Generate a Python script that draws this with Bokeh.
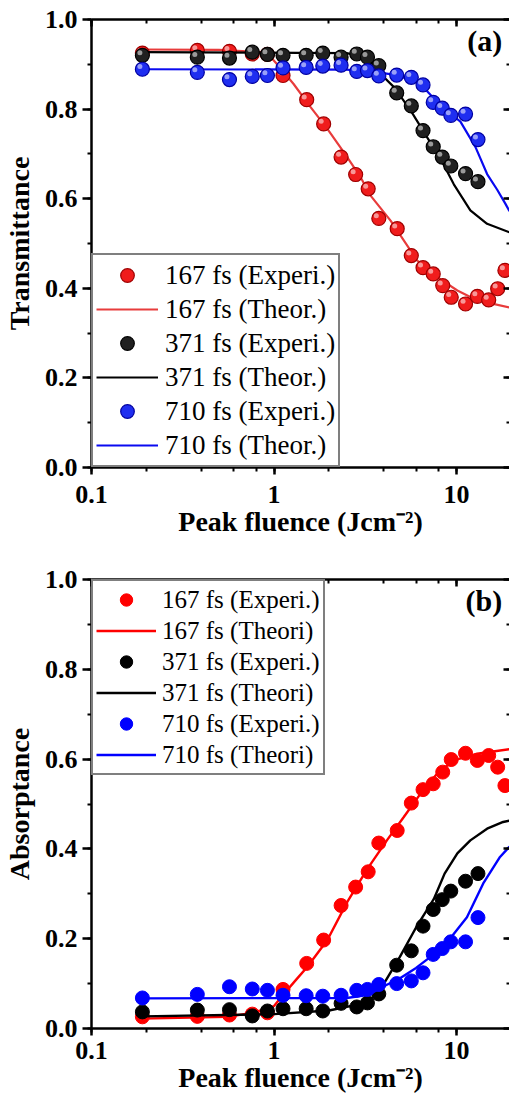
from bokeh.plotting import figure
from bokeh.models import (LogAxis, LinearAxis, Legend, LegendItem, Label,
                          CustomJSTickFormatter, Range1d, SingleIntervalTicker, LogTicker)
from bokeh.layouts import column
from bokeh.embed import file_html
from bokeh.resources import INLINE

# ---------------- data: panel (a) transmittance ----------------
a_red_x = [0.19, 0.38, 0.57, 0.76, 0.92, 1.12, 1.51, 1.87, 2.33, 2.8, 3.28, 3.75,
           4.73, 5.65, 6.55, 7.45, 8.4, 9.35, 11.2, 13.0, 15.0, 16.8, 18.4]
a_red_y = [0.925, 0.931, 0.929, 0.923, 0.922, 0.875, 0.821, 0.767, 0.693, 0.654, 0.622, 0.556,
           0.533, 0.473, 0.446, 0.432, 0.406, 0.380, 0.365, 0.382, 0.374, 0.399, 0.440]
a_blk_x = [0.19, 0.38, 0.57, 0.76, 0.92, 1.12, 1.5, 1.85, 2.33, 2.84, 3.25, 3.75,
           4.7, 5.65, 6.55, 7.45, 8.35, 9.3, 11.2, 13.1]
a_blk_y = [0.920, 0.916, 0.914, 0.927, 0.922, 0.920, 0.920, 0.925, 0.916, 0.923, 0.916, 0.897,
           0.836, 0.807, 0.752, 0.716, 0.693, 0.673, 0.656, 0.638]
a_blu_x = [0.19, 0.38, 0.57, 0.76, 0.92, 1.12, 1.5, 1.85, 2.33, 2.84, 3.25, 3.75,
           4.7, 5.65, 6.55, 7.45, 8.35, 9.3, 11.2, 13.1]
a_blu_y = [0.889, 0.882, 0.866, 0.873, 0.875, 0.892, 0.893, 0.896, 0.898, 0.884, 0.886, 0.874,
           0.876, 0.871, 0.854, 0.815, 0.802, 0.786, 0.789, 0.732]

a_red_th_x = [0.19, 0.5, 0.87, 0.95, 1.04, 1.28, 1.59, 1.96, 2.41, 2.98, 3.38, 4.35, 6.09, 7.83, 10.1, 13.0, 19.5]
a_red_th_y = [0.933, 0.932, 0.927, 0.918, 0.900, 0.856, 0.804, 0.756, 0.704, 0.648, 0.607, 0.551, 0.462, 0.425, 0.395, 0.373, 0.357]
a_blk_th_x = [0.19, 2.5, 3.0, 3.4, 3.83, 4.54, 5.6, 6.9, 8.17, 9.66, 11.9, 14.7, 19.5]
a_blk_th_y = [0.927, 0.925, 0.918, 0.905, 0.879, 0.849, 0.797, 0.737, 0.689, 0.632, 0.574, 0.544, 0.525]
a_blu_th_x = [0.19, 2.5, 3.67, 4.54, 5.8, 6.9, 8.17, 10.5, 12.7, 14.7, 16.7, 18.5, 19.5]
a_blu_th_y = [0.889, 0.888, 0.882, 0.877, 0.864, 0.840, 0.808, 0.772, 0.715, 0.655, 0.620, 0.589, 0.572]

# ---------------- data: panel (b) absorptance ----------------
b_red_x = a_red_x
b_red_y = [0.026, 0.027, 0.030, 0.032, 0.035, 0.087, 0.145, 0.197, 0.274, 0.315, 0.349, 0.413,
           0.441, 0.502, 0.532, 0.545, 0.571, 0.599, 0.613, 0.597, 0.608, 0.582, 0.541]
b_blk_x = a_blk_x
b_blk_y = [0.037, 0.041, 0.042, 0.028, 0.039, 0.044, 0.044, 0.039, 0.056, 0.048, 0.057, 0.077,
           0.141, 0.173, 0.228, 0.265, 0.287, 0.306, 0.328, 0.345]
b_blu_x = a_blu_x
b_blu_y = [0.068, 0.076, 0.093, 0.088, 0.085, 0.074, 0.073, 0.072, 0.074, 0.085, 0.087, 0.098,
           0.100, 0.106, 0.124, 0.165, 0.178, 0.193, 0.193, 0.247]

b_red_th_x = [0.19, 0.55, 0.77, 1.0, 1.15, 1.33, 1.52, 1.96, 2.52, 3.24, 4.17, 5.14, 6.35, 7.84, 9.66, 12.97, 19.5]
b_red_th_y = [0.022, 0.026, 0.035, 0.050, 0.080, 0.110, 0.137, 0.197, 0.282, 0.355, 0.420, 0.471, 0.523, 0.568, 0.597, 0.612, 0.622]
b_blk_th_x = [0.19, 1.0, 2.0, 3.0, 3.5, 4.0, 4.9, 6.0, 7.5, 8.6, 10.1, 11.9, 14.7, 18.0, 19.5]
b_blk_th_y = [0.027, 0.032, 0.040, 0.055, 0.070, 0.100, 0.160, 0.225, 0.288, 0.345, 0.390, 0.419, 0.445, 0.460, 0.463]
b_blu_th_x = [0.19, 2.5, 3.3, 4.0, 4.9, 6.0, 7.5, 9.2, 11.4, 14.0, 17.3, 19.5]
b_blu_th_y = [0.067, 0.068, 0.075, 0.094, 0.112, 0.135, 0.165, 0.200, 0.248, 0.323, 0.382, 0.405]

a_labels = ["167 fs (Experi.)", "167 fs (Theor.)", "371 fs (Experi.)", "371 fs (Theor.)",
            "710 fs (Experi.)", "710 fs (Theor.)"]
b_labels = ["167 fs (Experi.)", "167 fs (Theori)", "371 fs (Experi.)", "371 fs (Theori)",
            "710 fs (Experi.)", "710 fs (Theori)"]

FONT = "'Liberation Serif', 'Times New Roman', Times, serif"


def style_axis(ax, tick_out, tick_in, minor_out, minor_in, standoff=5):
    ax.axis_line_width = 2.5
    ax.axis_line_color = "black"
    ax.major_tick_line_width = 2.5
    ax.minor_tick_line_width = 2
    ax.major_tick_out = tick_out
    ax.major_tick_in = tick_in
    ax.minor_tick_out = minor_out
    ax.minor_tick_in = minor_in
    ax.major_label_text_font = FONT
    ax.major_label_text_font_style = "bold"
    ax.major_label_text_color = "black"
    ax.major_label_text_font_size = "26px"
    ax.major_label_standoff = standoff
    ax.axis_label_text_font = FONT
    ax.axis_label_text_font_style = "bold"
    ax.axis_label_text_font_size = "28px"
    ax.axis_label_text_color = "black"


def make_panel(height, top, bottom, ylabel, tag, bottom_standoff):
    p = figure(width=509, height=height, x_axis_type="log",
               x_range=Range1d(0.1, 19.5), y_range=Range1d(0, 1),
               output_backend="svg", toolbar_location=None,
               min_border_left=91, min_border_right=0,
               min_border_top=top, min_border_bottom=bottom)
    p.outline_line_color = None
    p.grid.visible = False
    p.background_fill_color = "white"

    xa = p.xaxis[0]
    xa.ticker = LogTicker()
    xa.formatter = CustomJSTickFormatter(code="return tick < 0.99 ? tick.toFixed(1) : tick.toFixed(0);")
    style_axis(xa, 7, 0, 4, 0, standoff=bottom_standoff)
    xa.axis_label = "Peak fluence (Jcm⁻²)"
    xa.axis_label_standoff = 0

    ya = p.yaxis[0]
    ya.ticker = SingleIntervalTicker(interval=0.2, num_minor_ticks=2)
    ya.formatter = CustomJSTickFormatter(code="return tick.toFixed(1);")
    style_axis(ya, 9, 0, 4, 0, standoff=5)
    ya.axis_label = ylabel
    ya.axis_label_standoff = 7

    top_ax = LogAxis(ticker=LogTicker(),
                     formatter=CustomJSTickFormatter(code="return '';"))
    style_axis(top_ax, 0, 7, 0, 4, standoff=0)
    top_ax.major_label_text_font_size = "4px"
    p.add_layout(top_ax, "above")

    right_ax = LinearAxis(ticker=SingleIntervalTicker(interval=0.2, num_minor_ticks=2),
                          formatter=CustomJSTickFormatter(code="return '';"))
    style_axis(right_ax, 0, 6, 0, 3, standoff=0)
    right_ax.major_label_text_font_size = "4px"
    right_ax.axis_line_color = None
    p.add_layout(right_ax, "right")

    p.add_layout(Label(x=17.8, y=0.953, text=tag, text_align="right", text_baseline="middle",
                       text_font=FONT, text_font_style="bold", text_font_size="30px",
                       text_color="black"))
    return p


# ---------------- panel (a) ----------------
p1 = make_panel(545, 19, 78, "Transmittance", "(a)", 11)

sphere = [("#f01c1c", "#a00000", a_red_x, a_red_y, a_red_th_x, a_red_th_y, "#e83c3c"),
          ("#202020", "#000000", a_blk_x, a_blk_y, a_blk_th_x, a_blk_th_y, "#000000"),
          ("#1f2ef0", "#0000a0", a_blu_x, a_blu_y, a_blu_th_x, a_blu_th_y, "#0a0af0")]
items_a = []
HX = 10 ** (-2.5 / 182.5)
for i, (fc, lc, xs, ys, tx, ty, thc) in enumerate(sphere):
    rl = p1.line(tx, ty, line_color=thc, line_width=2.2)
    rs = p1.scatter(xs, ys, size=14, fill_color=fc, line_color=lc, line_width=1.2)
    p1.scatter([x * HX for x in xs], [y + 0.006 for y in ys], size=5,
               fill_color="white", fill_alpha=0.55, line_color=None)
    items_a.append(LegendItem(label=a_labels[2 * i], renderers=[rs]))
    items_a.append(LegendItem(label=a_labels[2 * i + 1], renderers=[rl]))

leg_a = Legend(items=items_a, location="bottom_left", margin=0, padding=3, spacing=0,
               glyph_width=62, glyph_height=34, label_height=34, label_standoff=7,
               label_text_font=FONT, label_text_font_size="27px", label_text_color="black",
               border_line_color="black", border_line_width=2.5,
               background_fill_color="white", background_fill_alpha=1)
p1.add_layout(leg_a)

# ---------------- panel (b) ----------------
p2 = make_panel(555, 34, 72, "Absorptance", "(b)", 6)

flat = [("#ff0000", b_red_x, b_red_y, b_red_th_x, b_red_th_y),
        ("#000000", b_blk_x, b_blk_y, b_blk_th_x, b_blk_th_y),
        ("#0000ff", b_blu_x, b_blu_y, b_blu_th_x, b_blu_th_y)]
items_b = []
for i, (c, xs, ys, tx, ty) in enumerate(flat):
    rl = p2.line(tx, ty, line_color=c, line_width=2.4)
    rs = p2.scatter(xs, ys, size=14, fill_color=c, line_color=c)
    items_b.append(LegendItem(label=b_labels[2 * i], renderers=[rs]))
    items_b.append(LegendItem(label=b_labels[2 * i + 1], renderers=[rl]))

leg_b = Legend(items=items_b, location="top_left", margin=0, padding=3, spacing=0,
               glyph_width=60, glyph_height=31, label_height=31, label_standoff=6,
               label_text_font=FONT, label_text_font_size="25px", label_text_color="black",
               border_line_color="black", border_line_width=2.5,
               background_fill_color="white", background_fill_alpha=1)
p2.add_layout(leg_b)

layout = column(p1, p2, spacing=0)
open("out.html", "w").write(file_html(layout, INLINE))
